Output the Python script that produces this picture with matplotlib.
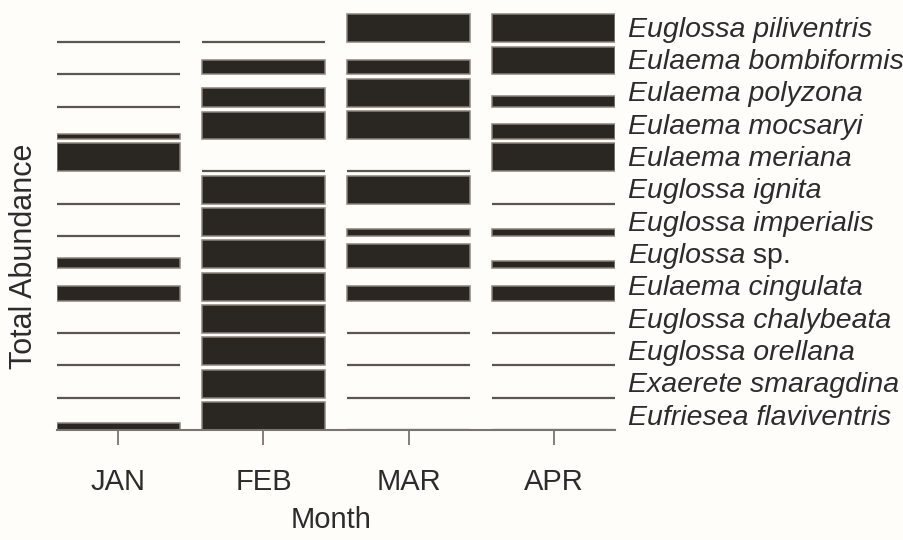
"""Monthly abundance of orchid bee species, drawn as stacked row bars."""

import matplotlib.pyplot as plt
import numpy as np

plt.rcParams["font.family"] = ["Liberation Sans", "DejaVu Sans"]

# ---------------------------------------------------------------------------
# Data (bar height as a fraction of one row)
# ---------------------------------------------------------------------------

months = ["JAN", "FEB", "MAR", "APR"]

species = [
    "Euglossa piliventris",
    "Eulaema bombiformis",
    "Eulaema polyzona",
    "Eulaema mocsaryi",
    "Eulaema meriana",
    "Euglossa ignita",
    "Euglossa imperialis",
    "Euglossa sp.",
    "Eulaema cingulata",
    "Euglossa chalybeata",
    "Euglossa orellana",
    "Exaerete smaragdina",
    "Eufriesea flaviventris",
]

jan = [0, 0, 0, 0.15, 0.87, 0, 0, 0.32, 0.46, 0, 0, 0, 0.23]
feb = [0, 0.43, 0.57, 0.85, 0, 0.87, 0.87, 0.87, 0.87, 0.87, 0.87, 0.87, 0.87]
mar = [0.87, 0.45, 0.87, 0.87, 0, 0.87, 0.22, 0.76, 0.46, 0, 0, 0, 0]
apr = [0.87, 0.85, 0.34, 0.46, 0.87, 0, 0.22, 0.23, 0.46, 0, 0, 0, 0]

# ---------------------------------------------------------------------------
# Plot
# ---------------------------------------------------------------------------

W, H = 904, 540
BG = "#fefdfa"
TEXT = "#2e2c2a"

fig = plt.figure(figsize=(W / 100, H / 100), dpi=100, facecolor=BG)
ax = fig.add_axes([57 / W, (H - 430) / H, (615 - 57) / W, (430 - 12) / H])
ax.set_facecolor(BG)

n = len(species)
base = np.arange(n)[::-1].astype(float)  # top row first
x = np.arange(1, len(months) + 1)
width = 0.845

for xi, vals in zip(x, [jan, feb, mar, apr]):
    vals = np.asarray(vals)
    empty = vals == 0
    ax.bar(
        np.full(n, xi),
        vals,
        width=width,
        bottom=base,
        color="#2a2622",
        edgecolor=np.where(empty, "#5e5550", "#8c827b"),
        linewidth=np.where(empty, 1.6, 1.1),
    )

for yb, name in zip(base, species):
    genus, rest = name.split(" ", 1)
    if rest == "sp.":
        t = ax.text(4.51, yb + 0.17, genus, fontsize=20.5, style="italic",
                    color=TEXT, va="baseline", ha="left", clip_on=False)
        ax.annotate(" sp.", xycoords=t, xy=(1, 0), va="bottom", ha="left",
                    fontsize=20.5, color=TEXT, annotation_clip=False)
    else:
        ax.text(4.51, yb + 0.17, name, fontsize=20.5, style="italic",
                color=TEXT, va="baseline", ha="left", clip_on=False)

ax.set_xlim(1 - width / 2, 4 + width / 2)
ax.set_ylim(0, (430 - 12) / 32.33)

for side in ["top", "right", "left"]:
    ax.spines[side].set_visible(False)
ax.spines["bottom"].set_color("#7a746f")
ax.spines["bottom"].set_linewidth(1.5)

ax.set_yticks([])
ax.set_xticks(x)
ax.set_xticklabels(months, fontsize=21, color=TEXT)
ax.tick_params(axis="x", length=11, width=1.3, color="#7a746f", pad=16)

fig.text(331 / W, 1 - 520 / H, "Month", fontsize=21, color=TEXT,
         ha="center", va="center")
fig.text(24 / W, 1 - 256 / H, "Total Abundance", fontsize=22,
         color=TEXT, rotation=90, ha="center", va="center")

fig.savefig("out.png", dpi=100, facecolor=fig.get_facecolor())
